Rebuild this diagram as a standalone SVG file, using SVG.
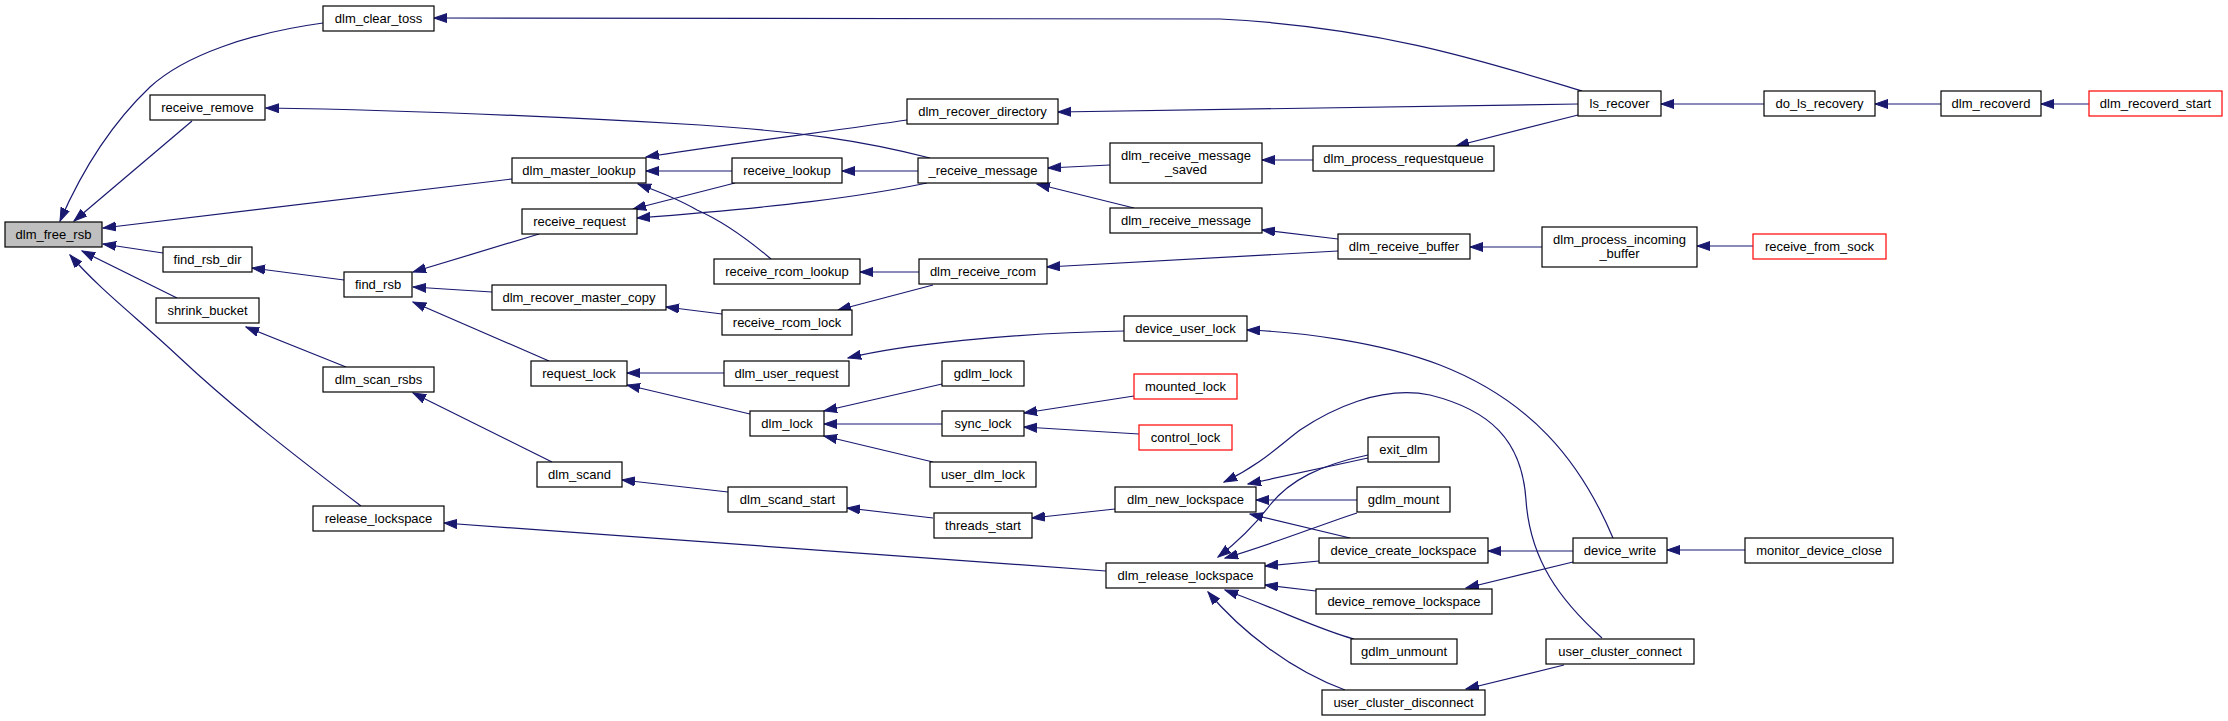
<svg xmlns="http://www.w3.org/2000/svg" width="2228" height="721" viewBox="0 0 2228 721">
<style>
.n rect{fill:#fff;stroke:#000;stroke-width:1.2}
.n.r rect{stroke:#f00}
.n.g rect{fill:#bfbfbf}
.n text{font-family:"Liberation Sans",Arial,sans-serif;font-size:13px;fill:#000;text-anchor:middle}
#edges path{fill:none;stroke:#191970;stroke-width:1.2;marker-end:url(#ah)}
</style>
<defs>
<marker id="ah" markerUnits="userSpaceOnUse" markerWidth="14" markerHeight="11" refX="13" refY="5" orient="auto" viewBox="0 0 14 11">
<path d="M0,0.5 L13,5 L0,9.5 z" fill="#191970" stroke="#191970" stroke-width="1"/>
</marker>
</defs>
<rect width="2228" height="721" fill="#fff"/>
<g id="edges">
<path d="M323,23 C250,33 185,55 150,87 C110,125 80,175 60,221"/>
<path d="M192,121 L74,221"/>
<path d="M512,179 L103,228"/>
<path d="M163,253 L103,244"/>
<path d="M177,298 L82,251"/>
<path d="M361,506 C290,452 230,405 180,358 C140,320 100,290 70,255"/>
<path d="M930,158 C860,140 800,132 700,125 C580,118 400,110 266,108"/>
<path d="M1582,91 C1490,63 1380,27 1220,19 L434,18"/>
<path d="M1578,104 L1058,112"/>
<path d="M1578,115 L1456,146"/>
<path d="M907,120 C840,130 720,145 646,157"/>
<path d="M732,171 L646,171"/>
<path d="M771,259 C745,237 720,220 697,210 C680,200 660,192 638,184"/>
<path d="M918,171 L842,171"/>
<path d="M735,183 L633,209"/>
<path d="M927,183 C860,197 780,207 637,218"/>
<path d="M919,272 L860,272"/>
<path d="M933,285 L838,310"/>
<path d="M722,314 L666,307"/>
<path d="M1124,331 C1010,333 900,345 848,358"/>
<path d="M539,234 L413,272"/>
<path d="M492,292 L413,287"/>
<path d="M549,361 L413,302"/>
<path d="M344,280 L252,268"/>
<path d="M346,367 L246,327"/>
<path d="M552,462 L413,393"/>
<path d="M1106,571 L444,523"/>
<path d="M724,373 L627,373"/>
<path d="M750,414 L627,385"/>
<path d="M728,492 L622,480"/>
<path d="M942,384 L824,411"/>
<path d="M942,424 L824,424"/>
<path d="M933,462 L824,436"/>
<path d="M933,518 L847,508"/>
<path d="M1115,509 L1032,518"/>
<path d="M1134,396 L1024,413"/>
<path d="M1139,434 L1024,427"/>
<path d="M1110,165 L1048,168"/>
<path d="M1134,208 L1037,184"/>
<path d="M1313,160 L1262,160"/>
<path d="M1338,239 L1262,230"/>
<path d="M1338,251 C1250,256 1150,261 1047,267"/>
<path d="M1613,538 C1580,460 1530,400 1440,365 C1380,342 1300,332 1247,330"/>
<path d="M1368,458 L1248,484"/>
<path d="M1368,455 C1320,465 1290,480 1270,505 C1255,525 1240,540 1218,557"/>
<path d="M1357,500 L1256,500"/>
<path d="M1357,513 C1320,525 1270,545 1225,558"/>
<path d="M1350,538 L1250,514"/>
<path d="M1319,561 L1265,566"/>
<path d="M1316,591 L1265,585"/>
<path d="M1354,639 C1320,630 1280,610 1225,590"/>
<path d="M1345,690 C1290,670 1240,630 1208,592"/>
<path d="M1602,638 C1560,600 1530,560 1526,500 C1522,440 1490,410 1430,395 C1380,385 1330,410 1300,430 C1280,445 1260,465 1224,482"/>
<path d="M1573,551 L1488,551"/>
<path d="M1573,562 L1466,588"/>
<path d="M1564,665 L1466,689"/>
<path d="M1542,247 L1470,247"/>
<path d="M1753,246 L1697,246"/>
<path d="M1764,104 L1661,104"/>
<path d="M1941,104 L1875,104"/>
<path d="M2089,104 L2041,104"/>
<path d="M1745,550 L1667,550"/>
</g>
<g id="dlm_free_rsb" class="n g"><rect x="5" y="222" width="97" height="25"/><text x="53.5" y="239">dlm_free_rsb</text></g>
<g id="dlm_clear_toss" class="n"><rect x="323" y="6" width="111" height="25"/><text x="378.5" y="23">dlm_clear_toss</text></g>
<g id="receive_remove" class="n"><rect x="150" y="95" width="115" height="25"/><text x="207.5" y="112">receive_remove</text></g>
<g id="find_rsb_dir" class="n"><rect x="163" y="247" width="89" height="25"/><text x="207.5" y="264">find_rsb_dir</text></g>
<g id="shrink_bucket" class="n"><rect x="156" y="298" width="103" height="25"/><text x="207.5" y="315">shrink_bucket</text></g>
<g id="release_lockspace" class="n"><rect x="313" y="506" width="131" height="25"/><text x="378.5" y="523">release_lockspace</text></g>
<g id="dlm_master_lookup" class="n"><rect x="512" y="158" width="134" height="25"/><text x="579" y="175">dlm_master_lookup</text></g>
<g id="receive_request" class="n"><rect x="522" y="209" width="115" height="25"/><text x="579.5" y="226">receive_request</text></g>
<g id="find_rsb" class="n"><rect x="344" y="272" width="68" height="25"/><text x="378" y="289">find_rsb</text></g>
<g id="dlm_recover_master_copy" class="n"><rect x="492" y="285" width="174" height="25"/><text x="579" y="302">dlm_recover_master_copy</text></g>
<g id="dlm_scan_rsbs" class="n"><rect x="323" y="367" width="111" height="25"/><text x="378.5" y="384">dlm_scan_rsbs</text></g>
<g id="request_lock" class="n"><rect x="531" y="361" width="96" height="25"/><text x="579" y="378">request_lock</text></g>
<g id="dlm_scand" class="n"><rect x="537" y="462" width="85" height="25"/><text x="579.5" y="479">dlm_scand</text></g>
<g id="receive_lookup" class="n"><rect x="732" y="158" width="110" height="25"/><text x="787" y="175">receive_lookup</text></g>
<g id="receive_rcom_lookup" class="n"><rect x="714" y="259" width="146" height="25"/><text x="787" y="276">receive_rcom_lookup</text></g>
<g id="receive_rcom_lock" class="n"><rect x="722" y="310" width="130" height="25"/><text x="787" y="327">receive_rcom_lock</text></g>
<g id="dlm_user_request" class="n"><rect x="724" y="361" width="125" height="25"/><text x="786.5" y="378">dlm_user_request</text></g>
<g id="dlm_lock" class="n"><rect x="750" y="411" width="74" height="25"/><text x="787" y="428">dlm_lock</text></g>
<g id="dlm_scand_start" class="n"><rect x="728" y="487" width="119" height="25"/><text x="787.5" y="504">dlm_scand_start</text></g>
<g id="dlm_recover_directory" class="n"><rect x="907" y="99" width="151" height="25"/><text x="982.5" y="116">dlm_recover_directory</text></g>
<g id="_receive_message" class="n"><rect x="918" y="158" width="130" height="25"/><text x="983" y="175">_receive_message</text></g>
<g id="dlm_receive_rcom" class="n"><rect x="919" y="259" width="128" height="25"/><text x="983" y="276">dlm_receive_rcom</text></g>
<g id="gdlm_lock" class="n"><rect x="942" y="361" width="82" height="25"/><text x="983" y="378">gdlm_lock</text></g>
<g id="sync_lock" class="n"><rect x="942" y="411" width="82" height="25"/><text x="983" y="428">sync_lock</text></g>
<g id="user_dlm_lock" class="n"><rect x="930" y="462" width="106" height="25"/><text x="983" y="479">user_dlm_lock</text></g>
<g id="threads_start" class="n"><rect x="934" y="513" width="98" height="25"/><text x="983" y="530">threads_start</text></g>
<g id="dlm_receive_message_saved" class="n"><rect x="1110" y="143" width="152" height="40"/><text x="1186" y="160">dlm_receive_message</text><text x="1186" y="174">_saved</text></g>
<g id="dlm_receive_message" class="n"><rect x="1110" y="208" width="152" height="25"/><text x="1186" y="225">dlm_receive_message</text></g>
<g id="device_user_lock" class="n"><rect x="1124" y="316" width="123" height="25"/><text x="1185.5" y="333">device_user_lock</text></g>
<g id="mounted_lock" class="n r"><rect x="1134" y="374" width="103" height="25"/><text x="1185.5" y="391">mounted_lock</text></g>
<g id="control_lock" class="n r"><rect x="1139" y="425" width="93" height="25"/><text x="1185.5" y="442">control_lock</text></g>
<g id="dlm_new_lockspace" class="n"><rect x="1115" y="487" width="141" height="25"/><text x="1185.5" y="504">dlm_new_lockspace</text></g>
<g id="dlm_release_lockspace" class="n"><rect x="1106" y="563" width="159" height="25"/><text x="1185.5" y="580">dlm_release_lockspace</text></g>
<g id="dlm_process_requestqueue" class="n"><rect x="1313" y="146" width="181" height="25"/><text x="1403.5" y="163">dlm_process_requestqueue</text></g>
<g id="dlm_receive_buffer" class="n"><rect x="1338" y="234" width="132" height="25"/><text x="1404" y="251">dlm_receive_buffer</text></g>
<g id="exit_dlm" class="n"><rect x="1368" y="437" width="71" height="25"/><text x="1403.5" y="454">exit_dlm</text></g>
<g id="gdlm_mount" class="n"><rect x="1357" y="487" width="93" height="25"/><text x="1403.5" y="504">gdlm_mount</text></g>
<g id="device_create_lockspace" class="n"><rect x="1319" y="538" width="169" height="25"/><text x="1403.5" y="555">device_create_lockspace</text></g>
<g id="device_remove_lockspace" class="n"><rect x="1316" y="589" width="176" height="25"/><text x="1404" y="606">device_remove_lockspace</text></g>
<g id="gdlm_unmount" class="n"><rect x="1351" y="639" width="106" height="25"/><text x="1404" y="656">gdlm_unmount</text></g>
<g id="user_cluster_disconnect" class="n"><rect x="1322" y="690" width="163" height="25"/><text x="1403.5" y="707">user_cluster_disconnect</text></g>
<g id="ls_recover" class="n"><rect x="1578" y="91" width="83" height="25"/><text x="1619.5" y="108">ls_recover</text></g>
<g id="dlm_process_incoming_buffer" class="n"><rect x="1542" y="227" width="155" height="40"/><text x="1619.5" y="244">dlm_process_incoming</text><text x="1619.5" y="258">_buffer</text></g>
<g id="device_write" class="n"><rect x="1573" y="538" width="94" height="25"/><text x="1620" y="555">device_write</text></g>
<g id="user_cluster_connect" class="n"><rect x="1546" y="639" width="148" height="25"/><text x="1620" y="656">user_cluster_connect</text></g>
<g id="do_ls_recovery" class="n"><rect x="1764" y="91" width="111" height="25"/><text x="1819.5" y="108">do_ls_recovery</text></g>
<g id="receive_from_sock" class="n r"><rect x="1753" y="234" width="133" height="25"/><text x="1819.5" y="251">receive_from_sock</text></g>
<g id="monitor_device_close" class="n"><rect x="1745" y="538" width="148" height="25"/><text x="1819" y="555">monitor_device_close</text></g>
<g id="dlm_recoverd" class="n"><rect x="1941" y="91" width="100" height="25"/><text x="1991" y="108">dlm_recoverd</text></g>
<g id="dlm_recoverd_start" class="n r"><rect x="2089" y="91" width="133" height="25"/><text x="2155.5" y="108">dlm_recoverd_start</text></g>
</svg>
